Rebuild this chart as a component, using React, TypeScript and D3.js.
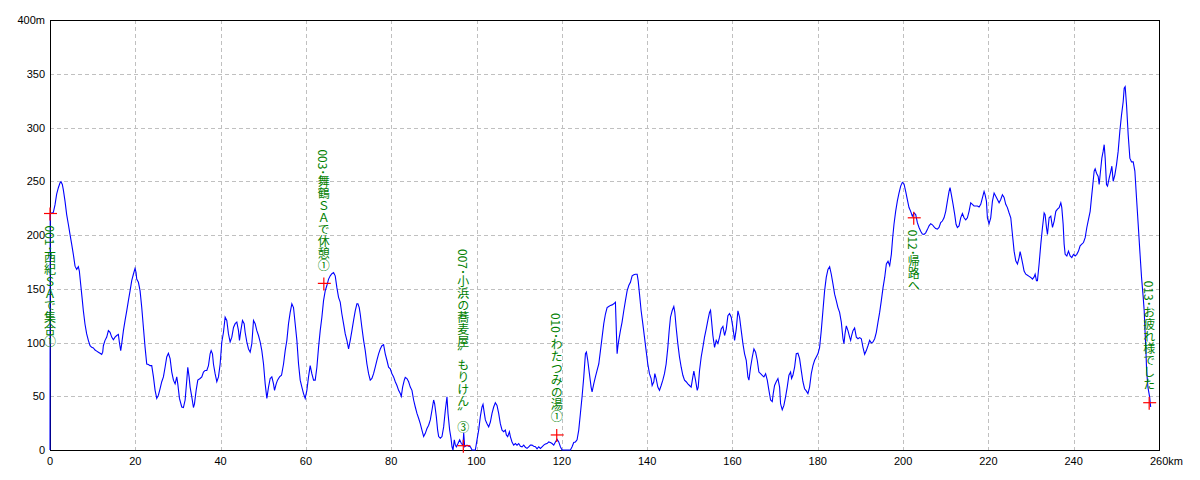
import React from 'react';
import * as d3 from 'd3';

// [distance km, elevation m]
const profile: [number, number][] = [
  [0, 0], [0.05, 220], [0.78, 221], [1.17, 228], [1.56, 238], [1.96, 244], [2.35, 248.5], [2.58, 249.5], [2.89, 247], [3.13, 242],
  [3.52, 231.5], [3.91, 219], [4.3, 210], [4.69, 200.5], [5.08, 191.5], [5.47, 182], [5.87, 171], [6.26, 168], [6.65, 170.5], [6.88, 166.5],
  [7.2, 154], [7.51, 142], [7.82, 129.5], [8.21, 117], [8.6, 108], [8.99, 102], [9.39, 97], [9.78, 95.5], [10.17, 95], [10.56, 93],
  [10.95, 92], [11.34, 91], [11.73, 90], [12.12, 89], [12.36, 91], [12.51, 97], [12.9, 102], [13.3, 105], [13.69, 111], [14.08, 109.5],
  [14.47, 105], [14.86, 102.5], [15.25, 105], [15.64, 106.5], [16.03, 107.5], [16.27, 100], [16.58, 92.5], [16.82, 99], [17.21, 111], [17.6, 120.5],
  [17.99, 129.5], [18.38, 139], [18.77, 148], [19.16, 157.5], [19.55, 163.5], [19.94, 169], [20.18, 165], [20.33, 159], [20.73, 156], [21.12, 148],
  [21.51, 132.5], [21.9, 114], [22.29, 95.5], [22.68, 80], [23.07, 79.5], [23.46, 78.5], [23.85, 78.5], [24.25, 68], [24.64, 55.5], [25.03, 48],
  [25.42, 51], [25.81, 57], [26.2, 63.5], [26.59, 68], [26.98, 77], [27.37, 86.5], [27.76, 90], [28.16, 85], [28.55, 72.5], [28.94, 65],
  [29.33, 61.5], [29.72, 68], [29.96, 61.5], [30.35, 48], [30.89, 40], [31.28, 39.5], [31.68, 46.5], [32.07, 65], [32.3, 77], [32.61, 68],
  [32.85, 58.5], [33.24, 49.5], [33.63, 39.5], [33.87, 43], [34.26, 55.5], [34.65, 65], [35.19, 66.5], [35.59, 68], [35.98, 72.5], [36.37, 74],
  [36.76, 74], [37.15, 78.5], [37.54, 89.5], [37.78, 92.5], [38.09, 89.5], [38.32, 80], [38.71, 71], [39.11, 63.5], [39.5, 68], [39.89, 80],
  [40.28, 100.5], [40.67, 109.5], [41.06, 123.5], [41.45, 120.5], [41.84, 108], [42.23, 100.5], [42.63, 105], [43.02, 114], [43.41, 117.5], [43.8, 119],
  [44.19, 111], [44.42, 102], [44.74, 111], [45.13, 120.5], [45.52, 117.5], [45.75, 109.5], [46.14, 100.5], [46.54, 94], [46.93, 91], [47.32, 99],
  [47.71, 120.5], [48.1, 117.5], [48.49, 111], [48.88, 106.5], [49.27, 100.5], [49.66, 92.5], [50.06, 80], [50.45, 61.5], [50.84, 48], [51.23, 58.5],
  [51.62, 66.5], [52.01, 68], [52.4, 61.5], [52.64, 55.5], [53.03, 61.5], [53.34, 65], [53.81, 68], [54.28, 69.5], [54.75, 80], [55.14, 92.5],
  [55.53, 102], [55.92, 117.5], [56.31, 128], [56.7, 136], [57.09, 132.5], [57.48, 117.5], [57.88, 102], [58.27, 80], [58.66, 65], [59.05, 58.5],
  [59.44, 52.5], [59.83, 48], [60.22, 55.5], [60.61, 68], [61.0, 78.5], [61.39, 71], [61.79, 65], [62.18, 65], [62.57, 77], [62.96, 95.5],
  [63.35, 111], [63.74, 123.5], [64.13, 139], [64.52, 148], [64.91, 153], [65.31, 159], [65.7, 162], [66.09, 164], [66.48, 165], [66.87, 162],
  [67.26, 151], [67.65, 142], [68.04, 137.5], [68.43, 126.5], [68.82, 117.5], [69.22, 108], [69.61, 102], [70.0, 94], [70.39, 102], [70.78, 111],
  [71.17, 120.5], [71.56, 129.5], [71.95, 136], [72.19, 136], [72.5, 132.5], [72.73, 126.5], [73.12, 114], [73.52, 102], [73.91, 92.5], [74.3, 80],
  [74.69, 71], [75.08, 65], [75.47, 66.5], [75.86, 71], [76.25, 77], [76.65, 83.5], [77.04, 89.5], [77.43, 94], [77.82, 97], [78.21, 98],
  [78.6, 89.5], [78.99, 83.5], [79.38, 77], [79.77, 75.5], [80.17, 71], [80.56, 68], [80.95, 63.5], [81.34, 60], [81.73, 55.5], [82.12, 52.5],
  [82.36, 50], [82.67, 58.5], [83.06, 65], [83.29, 67.5], [83.68, 66.5], [84.08, 63.5], [84.47, 58.5], [84.86, 55.5], [85.25, 46.5], [85.64, 40],
  [86.03, 34], [86.42, 29.5], [86.81, 24.5], [87.2, 18.5], [87.6, 12.5], [87.99, 15.5], [88.38, 20], [88.77, 23], [89.16, 28], [89.55, 37],
  [89.94, 46.5], [90.18, 43], [90.57, 31], [90.88, 18.5], [91.12, 12.5], [91.51, 11], [91.9, 12.5], [92.29, 21.5], [92.68, 37], [93.07, 49.5],
  [93.31, 34], [93.7, 18.5], [94.01, 11], [94.25, 3], [94.48, 0], [94.79, 9.5], [95.03, 4.5], [95.26, 3], [95.65, 6], [96.05, 9.5],
  [96.44, 6], [96.83, 4.5], [96.99, 16], [97.22, 3], [97.77, 4.5], [98.16, 3.5], [98.55, 3], [98.94, 0], [99.33, 0], [99.72, 0],
  [100.11, 9.5], [100.5, 18.5], [100.89, 31], [101.28, 40], [101.52, 42.5], [101.83, 34], [102.07, 28], [102.46, 24.5], [102.85, 21.5], [103.24, 26],
  [103.63, 34], [104.02, 40], [104.41, 44], [104.8, 41.5], [105.19, 34], [105.58, 24.5], [105.98, 18.5], [106.37, 17], [106.76, 18.5], [106.99, 14],
  [107.3, 12.5], [107.7, 17], [107.93, 12.5], [108.32, 7.5], [108.71, 4.5], [109.1, 6], [109.49, 4.5], [109.89, 6], [110.28, 3.5], [110.67, 3],
  [111.06, 4.5], [111.45, 2.5], [111.84, 1.5], [112.23, 3], [112.62, 4.5], [113.01, 4.5], [113.4, 3.5], [113.8, 3], [114.19, 1], [114.58, 3],
  [114.97, 1.5], [115.36, 3], [115.75, 4.5], [116.14, 5.5], [116.53, 6], [116.92, 7.5], [117.31, 7], [117.71, 6], [118.1, 4.5], [118.49, 7.5],
  [118.88, 10], [119.27, 7.5], [119.66, 3], [120.05, 0], [121.62, 0], [122.01, 0], [122.4, 3], [122.79, 7], [123.18, 7.5], [123.57, 9.5],
  [123.96, 18.5], [124.35, 34], [124.74, 49.5], [125.14, 68], [125.53, 89.5], [125.76, 91], [126.07, 83.5], [126.46, 71], [126.86, 58.5], [127.09, 54],
  [127.48, 61.5], [127.87, 68], [128.26, 74], [128.66, 80], [129.05, 92.5], [129.44, 105], [129.83, 117.5], [130.22, 126.5], [130.61, 132.5], [131.0, 133.5],
  [131.39, 134.5], [131.78, 135], [132.17, 136], [132.56, 137.5], [132.8, 108], [132.96, 89.5], [133.11, 95.5], [133.34, 102], [133.73, 111], [134.12, 119],
  [134.52, 129.5], [134.91, 139], [135.3, 148], [135.69, 153], [136.08, 156], [136.48, 162], [136.87, 163], [137.26, 163.5], [137.65, 163.5], [137.89, 157.5],
  [138.21, 145], [138.59, 129.5], [138.98, 117.5], [139.37, 105], [139.76, 92.5], [140.15, 80], [140.54, 71], [140.93, 66.5], [141.17, 60], [141.56, 63.5],
  [141.8, 71], [142.11, 66.5], [142.5, 58.5], [142.89, 55.5], [143.28, 60], [143.67, 65], [144.06, 71], [144.45, 80], [144.85, 95.5], [145.16, 111],
  [145.47, 123.5], [145.86, 129.5], [146.25, 133.5], [146.49, 128], [146.8, 114], [147.19, 99], [147.58, 86.5], [147.98, 77], [148.37, 69.5], [148.76, 65],
  [149.15, 63.5], [149.54, 61.5], [149.93, 60], [150.32, 58.5], [150.71, 68], [150.95, 73.5], [151.34, 65], [151.74, 55.5], [151.97, 58.5], [152.28, 74],
  [152.67, 86.5], [153.06, 95.5], [153.45, 105], [153.84, 112.5], [154.23, 120.5], [154.62, 128], [154.86, 130], [155.09, 120.5], [155.41, 106.5], [155.8, 95.5],
  [156.19, 102], [156.58, 99], [156.97, 105], [157.36, 112.5], [157.76, 115], [158.15, 106.5], [158.54, 112.5], [158.93, 125], [159.32, 127], [159.71, 123.5],
  [160.1, 114], [160.5, 102], [160.89, 112.5], [161.28, 129.5], [161.67, 123.5], [162.06, 111], [162.45, 99], [162.84, 89.5], [163.23, 83.5], [163.62, 68],
  [163.86, 65], [164.25, 77], [164.65, 86.5], [165.03, 94], [165.42, 91], [165.81, 83.5], [166.2, 72.5], [166.59, 71], [166.98, 69.5], [167.37, 68],
  [167.77, 71], [168.16, 65], [168.55, 55.5], [168.94, 46.5], [169.33, 45], [169.56, 52.5], [169.87, 60], [170.26, 63.5], [170.66, 66.5], [171.05, 58.5],
  [171.28, 43], [171.67, 37.5], [172.06, 41.5], [172.45, 49.5], [172.84, 58.5], [173.24, 69.5], [173.63, 72.5], [173.86, 66.5], [174.17, 69.5], [174.57, 77],
  [174.96, 89.5], [175.35, 90], [175.74, 85], [176.13, 74], [176.52, 63.5], [176.91, 57], [177.3, 55], [177.69, 52.5], [178.08, 58.5], [178.48, 71],
  [178.87, 78.5], [179.26, 83.5], [179.65, 86.5], [180.04, 89.5], [180.43, 95.5], [180.82, 111], [181.21, 129.5], [181.6, 148], [181.99, 160.5], [182.39, 168],
  [182.78, 170.5], [183.17, 163.5], [183.56, 154.5], [183.95, 145], [184.34, 139], [184.73, 132.5], [185.12, 128], [185.52, 119], [185.91, 103.5], [186.14, 99],
  [186.38, 108], [186.69, 115.5], [187.08, 111], [187.47, 105], [187.71, 102], [187.94, 106.5], [188.25, 111], [188.64, 113.5], [189.04, 105], [189.43, 103.5],
  [189.82, 104.5], [190.21, 103.5], [190.6, 95.5], [190.99, 89], [191.38, 92.5], [191.77, 97], [192.16, 102], [192.56, 99.5], [192.95, 100.5], [193.34, 103.5],
  [193.73, 109.5], [194.12, 119], [194.51, 128], [194.9, 139], [195.3, 151], [195.69, 160.5], [196.08, 173], [196.47, 175.5], [196.86, 171.5], [197.25, 182],
  [197.56, 197.5], [197.87, 210], [198.26, 222], [198.65, 231.5], [199.04, 239], [199.44, 245.5], [199.83, 249], [200.22, 247.5], [200.61, 240.5], [201.0, 233],
  [201.39, 225.5], [201.78, 222], [202.17, 217.5], [202.57, 220.5], [202.96, 219], [203.35, 211.5], [203.74, 207], [204.13, 203.5], [204.52, 201], [204.91, 200.5],
  [205.3, 202], [205.69, 205], [206.09, 208.5], [206.48, 210.5], [206.87, 209.5], [207.26, 207.5], [207.65, 206], [208.04, 205.5], [208.43, 207], [208.82, 211.5],
  [209.21, 213], [209.6, 216], [210.0, 222], [210.39, 231.5], [210.78, 240.5], [211.01, 244], [211.32, 237.5], [211.72, 228.5], [212.11, 219], [212.42, 210],
  [212.73, 207], [213.12, 208.5], [213.51, 216], [213.91, 220], [214.3, 216], [214.69, 214], [215.08, 216], [215.47, 222], [215.86, 230], [216.25, 228.5],
  [216.64, 227], [217.04, 227], [217.43, 227], [217.82, 226], [218.21, 228.5], [218.6, 234.5], [218.99, 240.5], [219.22, 237.5], [219.54, 231.5], [219.77, 216],
  [220.16, 210.5], [220.55, 216], [220.95, 231.5], [221.34, 239], [221.73, 236], [222.12, 233], [222.51, 230], [222.9, 233], [223.29, 237.5], [223.68, 235],
  [224.07, 228.5], [224.46, 225.5], [224.86, 220.5], [225.25, 216], [225.64, 200.5], [226.03, 185], [226.42, 176], [226.81, 173], [227.2, 179], [227.44, 184.5],
  [227.75, 179], [228.06, 173], [228.37, 166.5], [228.77, 163.5], [229.16, 162.5], [229.55, 161.5], [229.94, 160.5], [230.33, 159], [230.72, 161], [230.96, 163.5],
  [231.27, 157.5], [231.5, 157.5], [231.89, 173], [232.29, 191.5], [232.68, 207], [233.07, 220.5], [233.3, 219], [233.62, 207], [233.85, 200.5], [234.24, 216],
  [234.63, 217.5], [235.03, 207], [235.42, 213], [235.81, 222], [236.2, 224], [236.59, 225.5], [236.98, 230], [237.21, 225.5], [237.53, 210], [237.76, 191.5],
  [238.0, 182], [238.39, 180.5], [238.78, 185], [239.17, 180.5], [239.56, 179], [239.95, 182], [240.34, 180.5], [240.73, 182], [241.12, 185], [241.51, 190],
  [241.9, 191.5], [242.3, 193], [242.69, 197.5], [243.08, 207], [243.47, 214.5], [243.86, 222], [244.17, 234.5], [244.49, 247], [244.8, 259.5], [245.03, 261.5],
  [245.35, 257.5], [245.74, 254.5], [245.97, 247], [246.29, 259.5], [246.6, 271.5], [246.91, 278], [247.15, 284], [247.38, 271.5], [247.69, 247], [247.93, 245.5],
  [248.32, 253], [248.71, 259.5], [248.95, 264], [249.26, 250], [249.65, 256], [250.04, 265.5], [250.43, 278], [250.82, 296.5], [251.21, 311.5], [251.6, 324],
  [251.84, 336.5], [252.07, 338], [252.39, 321], [252.78, 293], [253.17, 271.5], [253.56, 268], [253.95, 268], [254.34, 259.5], [254.73, 234.5], [255.12, 210],
  [255.51, 185], [255.91, 160.5], [256.3, 142], [256.53, 129.5], [256.7, 112.5], [256.9, 95.5], [257.1, 74], [257.4, 58.5], [257.8, 49.5], [258.05, 40],
];

const waypointLabels = [
  '001･西紀ＳＡで集合①',
  '003･舞鶴ＳＡで休憩①',
  '007･小浜の蕎麦屋〟もりけん〟 ③',
  '010･わたつみの湯①',
  '012･帰路へ',
  '013･お疲れ様でした',
];
const waypointKm = [0, 64.2, 96.9, 118.8, 202.5, 257.7];
const waypointElev = [220, 155, 4, 14, 216, 44];
const waypointTextBelow = [true, false, false, false, true, false];

const xTickValues = [0, 20, 40, 60, 80, 100, 120, 140, 160, 180, 200, 220, 240, 260];
const yTickValues = [0, 50, 100, 150, 200, 250, 300, 350, 400];

export default function App() {
  const W = 1200;
  const H = 480;
  const x = d3.scaleLinear().domain([0, 260]).range([50, 1159]);
  const y = d3.scaleLinear().domain([0, 400]).range([450, 20]);
  const line = d3.line<[number, number]>().x((d) => x(d[0])).y((d) => y(d[1]));
  const px = (v: number) => Math.round(v) + 0.5;
  const tickFont = '"Liberation Sans", Arial, sans-serif';

  return (
    <svg width={W} height={H} style={{ position: 'absolute', left: 0, top: 0, background: '#fff' }}>
      <rect x={0} y={0} width={W} height={H} fill="#fff" />
      {/* grid */}
      {xTickValues.slice(1, -1).map((v) => (
        <line key={'gx' + v} x1={px(x(v))} x2={px(x(v))} y1={y(400)} y2={y(0)} stroke="#c0c0c0" strokeDasharray="4,3" />
      ))}
      {yTickValues.slice(1, -1).map((v) => (
        <line key={'gy' + v} x1={x(0)} x2={x(260)} y1={px(y(v))} y2={px(y(v))} stroke="#c0c0c0" strokeDasharray="4,3" />
      ))}
      {/* frame */}
      <rect x={px(x(0))} y={px(y(400))} width={Math.round(x(260)) - Math.round(x(0))} height={Math.round(y(0)) - Math.round(y(400))} fill="none" stroke="#000" />
      {/* profile */}
      <path d={line(profile) || ''} fill="none" stroke="#0000ff" strokeWidth={1.1} />
      {/* waypoints */}
      {waypointKm.map((km, i) => {
        const cx = x(km);
        const cy = y(waypointElev[i]);
        return (
          <g key={'wp' + i}>
            <line x1={cx - 6} x2={cx + 7} y1={cy} y2={cy} stroke="#ff0000" strokeWidth={1.2} />
            <line x1={cx} x2={cx} y1={cy - 6} y2={cy + 7} stroke="#ff0000" strokeWidth={1.2} />
            <text
              x={cx}
              y={waypointTextBelow[i] ? cy + 12 : cy - 12}
              textAnchor={waypointTextBelow[i] ? 'start' : 'end'}
              fill="#008000"
              fontSize={12}
              fontFamily='"Noto Sans CJK JP", sans-serif'
              style={{ writingMode: 'vertical-rl' as any }}
            >
              {waypointLabels[i]}
            </text>
          </g>
        );
      })}
      {/* y tick labels */}
      {yTickValues.map((v) => (
        <text key={'yl' + v} x={45} y={y(v) + 4} textAnchor="end" fontSize={11} fontFamily={tickFont} fill="#000">
          {v === 400 ? '400m' : String(v)}
        </text>
      ))}
      {/* x tick labels */}
      {xTickValues.map((v) =>
        v === 260 ? (
          <text key={'xl' + v} x={x(v) - 9} y={465} textAnchor="start" fontSize={11} fontFamily={tickFont} fill="#000">
            260km
          </text>
        ) : (
          <text key={'xl' + v} x={x(v)} y={465} textAnchor="middle" fontSize={11} fontFamily={tickFont} fill="#000">
            {String(v)}
          </text>
        )
      )}
    </svg>
  );
}
